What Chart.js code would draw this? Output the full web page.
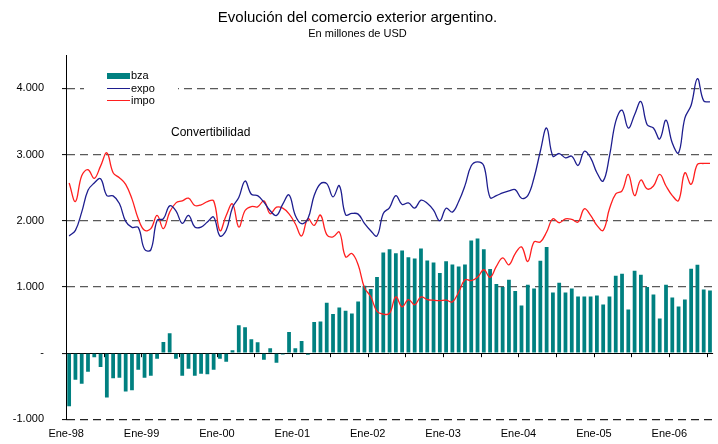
<!DOCTYPE html>
<html lang="es">
<head>
<meta charset="utf-8">
<title>Evolución del comercio exterior argentino</title>
<script src="https://cdn.jsdelivr.net/npm/chart.js@4.4.1/dist/chart.umd.min.js"></script>
<style>
  html, body { margin: 0; padding: 0; background: #fff; overflow: hidden; }
  canvas { display: block; }
</style>
</head>
<body>
<canvas id="chart" width="718" height="444"></canvas>
<script>
// Monthly data, Ene-98 .. Jul-06 (millones de USD)
const meses = ['Ene', 'Feb', 'Mar', 'Abr', 'May', 'Jun', 'Jul', 'Ago', 'Sep', 'Oct', 'Nov', 'Dic'];
const anios = ['98', '99', '00', '01', '02', '03', '04', '05', '06'];

const bza = [
  -800, -400, -460, -280, -60, -210, -670, -380, -370, -580, -560, -250,
  -370, -340, -85, 170, 300, -85, -340, -235, -340, -310, -320, -250,
  -85, -130, 45, 420, 390, 210, 165, -100, 75, -145, -20, 320,
  75, 185, -25, 470, 480, 760, 590, 690, 640, 600, 780, 1020,
  970, 1150, 1520, 1570, 1510, 1550, 1450, 1430, 1580, 1400, 1370, 1210,
  1390, 1340, 1310, 1340, 1700, 1730, 1570, 1270, 1045, 1000, 1110, 940,
  720, 1035, 975, 1395, 1605, 915, 1065, 915, 975, 855, 855, 855,
  870, 735, 855, 1170, 1200, 660, 1245, 1185, 1000, 885, 525, 1035,
  840, 705, 810, 1275, 1335, 960, 945
];

const expo = [
  1770, 1855, 2130, 2460, 2570, 2635, 2380, 2375, 2260, 1990, 1900, 1900,
  1570, 1560, 2005, 2030, 2225, 2150, 1960, 2080, 1905, 1905, 1980, 2055,
  1770, 1855, 2200, 2350, 2600, 2400, 2380, 2280, 2150, 2080, 2250, 2390,
  2080, 1955, 2030, 2380, 2560, 2560, 2360, 2530, 2090, 2110, 2100, 1960,
  1850, 1770, 2110, 2200, 2380, 2245, 2270, 2190, 2310, 2265, 2160, 2000,
  2190, 2130, 2290, 2530, 2830, 2890, 2830, 2350, 2380, 2420, 2450, 2470,
  2340, 2380, 2650, 3050, 3400, 2975, 3015, 2950, 2975, 2835, 3050, 2950,
  2725, 2600, 2975, 3500, 3670, 3400, 3600, 3800, 3450, 3400, 3235, 3520,
  3175, 3025, 3550, 3745, 4145, 3810, 3795
];

const impo = [
  2570, 2290, 2680, 2770, 2640, 2825, 3025, 2725, 2650, 2550, 2330, 2030,
  1855, 1880, 2080, 1880, 2130, 2270, 2300, 2340, 2230, 2240, 2290, 2300,
  1850, 2080, 2255, 1905, 2155, 2215, 2210, 2300, 2105, 2205, 2190, 2105,
  1955, 1770, 2030, 1930, 2085, 1790, 1755, 1830, 1455, 1505, 1335, 990,
  855, 630, 590, 600, 850, 700, 810, 730, 850, 810, 800, 795,
  800, 775, 920, 1110, 1095, 1145, 1260, 1145, 1310, 1440, 1335, 1505,
  1605, 1385, 1680, 1680, 1830, 2030, 1970, 2030, 2020, 1980, 2180, 2080,
  1930, 1855, 2180, 2405, 2450, 2700, 2380, 2615, 2480, 2525, 2700, 2525,
  2380, 2305, 2725, 2550, 2850, 2865, 2865
];

const yTicks = [-1000, 0, 1000, 2000, 3000, 4000];

const categorias = [];
anios.forEach(a => meses.forEach(m => categorias.push(m + '-' + a)));
categorias.length = bza.length;

// "4.000", "-1.000", and "-" for zero
const formatoMiles = v => {
  if (v === 0) return '-';
  const abs = Math.abs(v);
  const txt = Math.floor(abs / 1000) + '.' + String(abs % 1000).padStart(3, '0');
  return (v < 0 ? '-' : '') + txt;
};

const FONT = "'Liberation Sans', Arial, sans-serif";
Chart.defaults.font.family = FONT;
Chart.defaults.color = '#000';

const extras = {
  id: 'extras',
  beforeDatasetsDraw(chart) {
    const { ctx, chartArea, scales: { x, y } } = chart;
    const y0 = y.getPixelForValue(0);
    const paso = (chartArea.right - chartArea.left) / categorias.length;
    ctx.save();
    ctx.strokeStyle = '#000';
    ctx.lineWidth = 1;
    ctx.beginPath();
    ctx.moveTo(chartArea.left, Math.round(y0) + 0.5);
    ctx.lineTo(chartArea.right, Math.round(y0) + 0.5);
    // small marks every six months along the zero line
    for (let i = 6; i < categorias.length; i += 6) {
      const px = Math.round(x.getPixelForValue(i) - paso / 2) + 0.5;
      ctx.moveTo(px, y0);
      ctx.lineTo(px, y0 + 4);
    }
    ctx.stroke();
    ctx.restore();
  },
  afterDraw(chart) {
    const { ctx } = chart;
    const sets = chart.data.datasets;
    const byLabel = l => sets.find(d => d.label === l);
    ctx.save();
    ctx.fillStyle = '#fff';
    ctx.fillRect(84, 66, 94, 42);

    ctx.font = '11px ' + FONT;
    ctx.textBaseline = 'middle';
    ctx.textAlign = 'left';

    const bzaSet = byLabel('bza');
    ctx.fillStyle = bzaSet.backgroundColor;
    ctx.fillRect(107, 73, 23, 6);
    ctx.fillStyle = '#000';
    ctx.fillText(bzaSet.label, 131, 76);

    ['expo', 'impo'].forEach((l, i) => {
      const ds = byLabel(l);
      const yy = 88.5 + i * 12;
      ctx.strokeStyle = ds.borderColor;
      ctx.lineWidth = 1;
      ctx.beginPath();
      ctx.moveTo(107, yy);
      ctx.lineTo(130, yy);
      ctx.stroke();
      ctx.fillStyle = '#000';
      ctx.fillText(ds.label, 131, yy);
    });

    ctx.font = '12px ' + FONT;
    ctx.fillText('Convertibilidad', 171, 133);
    ctx.restore();
  }
};

new Chart(document.getElementById('chart'), {
  data: {
    labels: categorias,
    datasets: [
      {
        type: 'line',
        label: 'expo',
        data: expo,
        borderColor: '#1e1e8f',
        borderWidth: 1.3,
        pointRadius: 0,
        tension: 0.4,
        order: 1
      },
      {
        type: 'line',
        label: 'impo',
        data: impo,
        borderColor: '#ff1f1f',
        borderWidth: 1.3,
        pointRadius: 0,
        tension: 0.4,
        order: 2
      },
      {
        type: 'bar',
        label: 'bza',
        data: bza,
        backgroundColor: '#008080',
        barPercentage: 0.6,
        categoryPercentage: 1,
        order: 3
      }
    ]
  },
  options: {
    responsive: false,
    animation: false,
    devicePixelRatio: 1,
    layout: { padding: { top: 0, right: 3, bottom: 0, left: 0 } },
    plugins: {
      legend: { display: false },
      tooltip: { enabled: false },
      title: {
        display: true,
        text: 'Evolución del comercio exterior argentino.',
        font: { size: 15, weight: 'normal' },
        color: '#000',
        padding: { top: 9, bottom: 0 }
      },
      subtitle: {
        display: true,
        text: 'En millones de USD',
        font: { size: 11, weight: 'normal' },
        color: '#000',
        padding: { top: 0, bottom: 15 }
      }
    },
    scales: {
      x: {
        type: 'category',
        offset: true,
        grid: { display: false, drawTicks: false },
        border: { display: false },
        afterFit: s => { s.height = 21; },
        ticks: {
          autoSkip: false,
          maxRotation: 0,
          padding: 8,
          labelOffset: -3,
          font: { size: 11 },
          callback: (v, i) => (i % 12 === 0 ? categorias[i] : '')
        }
      },
      y: {
        min: -1000,
        max: 4500,
        afterBuildTicks: axis => { axis.ticks = yTicks.map(v => ({ value: v })); },
        afterFit: s => { s.width = 66; },
        grid: {
          color: c => (c.tick && c.tick.value === 0 ? 'rgba(0,0,0,0)' : (c.tick && c.tick.value < 0 ? '#222' : '#5a5a5a')),
          lineWidth: 1.2,
          drawTicks: true,
          tickLength: 4,
          tickColor: '#000',
          tickWidth: 1
        },
        border: { display: true, color: '#000', width: 1, dash: [8, 5] },
        ticks: {
          padding: 18,
          font: { size: 11 },
          callback: v => formatoMiles(v)
        }
      }
    }
  },
  plugins: [extras]
});
</script>
</body>
</html>
